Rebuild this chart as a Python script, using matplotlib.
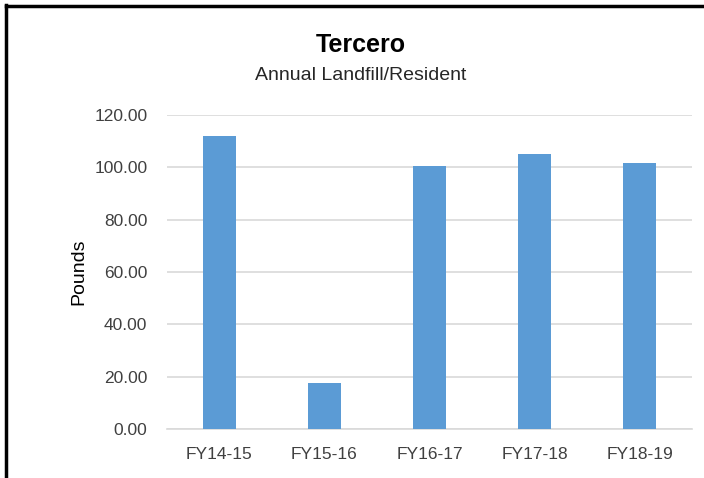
import numpy as np
from matplotlib import pyplot as plt
from matplotlib.lines import Line2D

years = ["FY14-15", "FY15-16", "FY16-17", "FY17-18", "FY18-19"]
pounds = [112.2, 17.5, 100.5, 105.2, 101.9]
y_ticks = [0, 20, 40, 60, 80, 100, 120]

plt.rcParams['font.family'] = ['Liberation Sans', 'DejaVu Sans']

fig = plt.figure(figsize=(7.04, 4.78), dpi=100)
ax = fig.add_axes([0.237, 0.1025, 0.746, 0.6565])

x = np.arange(len(years))
ax.bar(x, pounds, width=0.31, color="#5B9BD5", zorder=3)

ax.set_xlim(-0.5, len(years) - 0.5)
ax.set_ylim(0, 120)
ax.set_yticks(y_ticks)
ax.set_yticklabels(["%.2f" % v for v in y_ticks])
ax.set_xticks(x)
ax.set_xticklabels(years)
ax.tick_params(length=0, labelsize=12.5, colors="#404040")
ax.tick_params(axis="y", pad=14)
ax.tick_params(axis="x", pad=13)
ax.grid(axis="y", color="#D9D9D9", linewidth=1.2, zorder=0)
for side in ["top", "right", "left"]:
    ax.spines[side].set_visible(False)
ax.spines["bottom"].set_color("#D9D9D9")
ax.spines["bottom"].set_linewidth(1.2)
ax.set_ylabel("Pounds", fontsize=14, color="black", labelpad=5)

fig.text(0.513, 0.905, "Tercero", ha="center", va="center", fontsize=18, fontweight="bold")
fig.text(0.513, 0.842, "Annual Landfill/Resident", ha="center", va="center", fontsize=14, color="#262626")

# frame of the original box (only left and top edges visible)
fig.add_artist(Line2D([0.009, 0.009], [0, 0.99], transform=fig.transFigure, color="black", linewidth=2.5))
fig.add_artist(Line2D([0.008, 1.0], [0.988, 0.988], transform=fig.transFigure, color="black", linewidth=2.5))

fig.savefig("out.png", dpi=100)
